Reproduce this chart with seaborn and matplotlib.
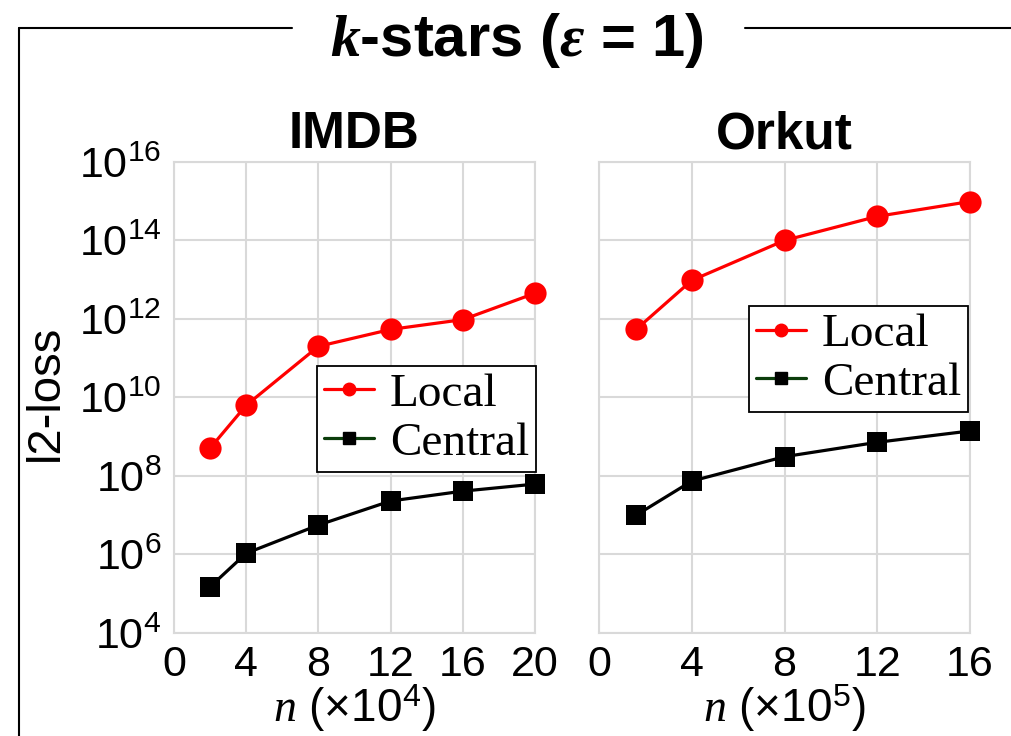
import numpy as np
import pandas as pd
import matplotlib
matplotlib.use('Agg')
import matplotlib.pyplot as plt
from matplotlib import font_manager
from matplotlib.lines import Line2D
import seaborn as sns

# values
methods = ['Local', 'Central']
imdb_n = [2, 4, 8, 12, 16, 20]
imdb_local = [5.1e8, 6.3e9, 2.0e11, 5.4e11, 9.6e11, 4.5e12]
imdb_central = [1.5e5, 1.07e6, 5.6e6, 2.3e7, 4.1e7, 6.2e7]
orkut_n = [1.6, 4, 8, 12, 16]
orkut_local = [5.4e11, 9.6e12, 1.0e14, 4.1e14, 9.8e14]
orkut_central = [1.0e7, 7.4e7, 3.1e8, 7.2e8, 1.4e9]
imdb_xticks = [0, 4, 8, 12, 16, 20]
orkut_xticks = [0, 4, 8, 12, 16]
yticks = [1e4, 1e6, 1e8, 1e10, 1e12, 1e14, 1e16]

sns.set_style('white')

names = {f.name for f in font_manager.fontManager.ttflist}
narrow = 'Liberation Sans Narrow' if 'Liberation Sans Narrow' in names else 'Liberation Sans'
plt.rcParams['font.family'] = [narrow, 'DejaVu Sans']
plt.rcParams['mathtext.fontset'] = 'custom'
plt.rcParams['mathtext.rm'] = narrow
plt.rcParams['mathtext.bf'] = narrow + ':bold'
plt.rcParams['mathtext.it'] = 'Liberation Serif:italic'
plt.rcParams['mathtext.bfit'] = 'Liberation Serif:italic:bold'
for key in ['text.color', 'axes.labelcolor', 'xtick.color', 'ytick.color']:
    plt.rcParams[key] = 'black'

palette = {'Local': '#ff0000', 'Central': '#000000'}
markers = {'Local': 'o', 'Central': 's'}
grid_col = '#d9d9d9'


def make_frame(n, local, central):
    return pd.DataFrame({
        'n': list(n) * 2,
        'loss': list(local) + list(central),
        'method': ['Local'] * len(n) + ['Central'] * len(n),
    })


fig = plt.figure(figsize=(10.11, 7.36), dpi=100)
ax1 = fig.add_axes([0.1721, 0.140, 0.357, 0.640])
ax2 = fig.add_axes([0.5925, 0.140, 0.367, 0.640], sharey=ax1)

panels = [
    (ax1, make_frame(imdb_n, imdb_local, imdb_central), 'IMDB', imdb_xticks,
     r'$n$ (×10$^{4}$)', (0.396, 0.567)),
    (ax2, make_frame(orkut_n, orkut_local, orkut_central), 'Orkut', orkut_xticks,
     r'$n$ (×10$^{5}$)', (0.404, 0.694)),
]

for ax, df, title, xt, xlab, leg_pos in panels:
    for m in methods:
        sub = df[df['method'] == m]
        sns.lineplot(data=sub, x='n', y='loss', ax=ax, color=palette[m],
                     marker=markers[m], markersize=16 if m == 'Local' else 14,
                     markeredgewidth=0, linewidth=2.3, label=m, legend=False,
                     clip_on=False, zorder=3)
    ax.set_yscale('log')
    ax.set_ylim(1e4, 1e16)
    ax.set_yticks(yticks)
    ax.minorticks_off()
    ax.set_xlim(0, xt[-1])
    ax.set_xticks(xt)
    ax.grid(True, color=grid_col, linewidth=1.5)
    for s in ax.spines.values():
        s.set_color(grid_col)
        s.set_linewidth(1.5)
    ax.tick_params(length=0, labelsize=31, pad=9)
    ax.set_title(title, fontsize=37, fontweight='bold', pad=10)
    ax.set_xlabel(xlab, fontsize=33, labelpad=-2)
    ax.set_ylabel('')

    handles = [
        Line2D([], [], color='#ff0000', marker='o', markersize=9, linewidth=2.3),
        Line2D([], [], color='#0b3d0b', marker='s', markersize=9,
               markerfacecolor='black', markeredgecolor='black', linewidth=2.3),
    ]
    leg = ax.legend(handles, methods, loc='upper left', bbox_to_anchor=leg_pos,
                    borderaxespad=0, frameon=True, fancybox=False, framealpha=1,
                    prop={'family': 'Liberation Serif', 'size': 34},
                    handlelength=1.05, handletextpad=0.35, borderpad=0.15,
                    labelspacing=0.12)
    leg.get_frame().set_edgecolor('black')
    leg.get_frame().set_linewidth(1.3)
    leg.set_zorder(5)

plt.setp(ax2.get_yticklabels(), visible=False)

fig.text(46 / 1011, 1 - 393 / 736, 'l2-loss', rotation=90, ha='center', va='center',
         fontsize=34, family='Liberation Sans')

# outer frame with title breaking the top line
W, H = 1011, 736
fig.add_artist(Line2D([19 / W, 19 / W], [1 - 28 / H, 0], color='black', linewidth=1.5))
fig.add_artist(Line2D([19 / W, 292 / W], [1 - 28 / H, 1 - 28 / H], color='black', linewidth=1.5))
fig.add_artist(Line2D([745 / W, 1.0], [1 - 28 / H, 1 - 28 / H], color='black', linewidth=1.5))
fig.text(517 / W, 1 - 40 / H, r'$\mathbfit{k}$-stars ($\mathbfit{\varepsilon}$ = 1)',
         ha='center', va='center', fontsize=43, fontweight='bold')

fig.savefig('out.png', dpi=100)
